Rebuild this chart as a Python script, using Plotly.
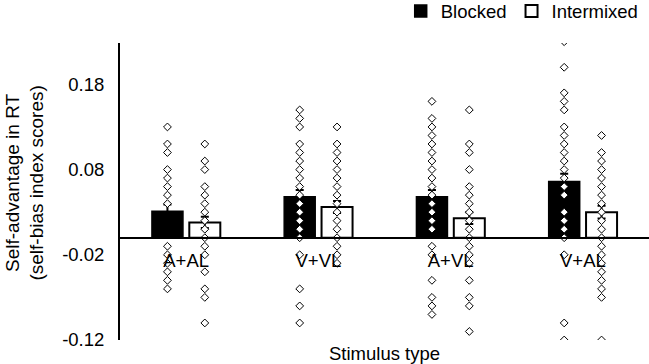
import plotly.graph_objects as go

categories = ["A+AL", "V+VL", "A+VL", "V+AL"]

blocked_means = [0.031, 0.048, 0.048, 0.066]
blocked_err = [0.008, 0.008, 0.008, 0.009]
intermixed_means = [0.018, 0.036, 0.023, 0.030]
intermixed_err = [0.0065, 0.007, 0.007, 0.0074]

blocked_AAL = [0.13, 0.11, 0.10, 0.08, 0.07, 0.06, 0.05, 0.04, -0.01, -0.02, -0.03, -0.04, -0.05, -0.06]
blocked_VVL = [0.15, 0.14, 0.13, 0.11, 0.10, 0.09, 0.08, 0.07, 0.06, 0.05, 0.04, 0.03, 0.02, 0.01, 0.00,
               -0.02, -0.06, -0.08, -0.10]
blocked_AVL = [0.16, 0.14, 0.13, 0.12, 0.11, 0.10, 0.09, 0.08, 0.07, 0.06, 0.05, 0.04, 0.03, 0.02, 0.01,
               -0.01, -0.02, -0.05, -0.07, -0.08, -0.09]
blocked_VAL = [0.23, 0.20, 0.17, 0.16, 0.15, 0.13, 0.12, 0.11, 0.10, 0.09, 0.08, 0.07, 0.06, 0.05, 0.03,
               0.02, 0.01, 0.00, -0.02, -0.10, -0.12]

intermixed_AAL = [0.11, 0.09, 0.08, 0.06, 0.05, 0.04, 0.03, 0.02, 0.01, 0.00, -0.01, -0.02, -0.04, -0.06,
                  -0.07, -0.10]
intermixed_VVL = [0.13, 0.11, 0.10, 0.09, 0.08, 0.07, 0.06, 0.05, 0.04, 0.03, 0.02, 0.01, 0.00, -0.01,
                  -0.02, -0.03]
intermixed_AVL = [0.15, 0.11, 0.10, 0.08, 0.06, 0.05, 0.04, 0.03, 0.02, 0.01, 0.00, -0.01, -0.02, -0.03,
                  -0.05, -0.07, -0.08, -0.11]
intermixed_VAL = [0.12, 0.10, 0.09, 0.08, 0.07, 0.06, 0.05, 0.04, 0.03, 0.02, 0.01, 0.00, -0.01, -0.02,
                  -0.03, -0.04, -0.05, -0.06, -0.07, -0.12]

y_tick_vals = [-0.12, -0.02, 0.08, 0.18]
y_tick_text = ["-0.12", "-0.02", "0.08", "0.18"]

FONT = "Arial, Liberation Sans, sans-serif"
FS = 18.5

blocked_pts = [blocked_AAL, blocked_VVL, blocked_AVL, blocked_VAL]
intermixed_pts = [intermixed_AAL, intermixed_VVL, intermixed_AVL, intermixed_VAL]


def flatten(groups):
    xs, ys = [], []
    for cat, vals in zip(categories, groups):
        xs += [cat] * len(vals)
        ys += vals
    return xs, ys


fig = go.Figure()
fig.add_trace(go.Bar(
    x=categories, y=blocked_means, name="Blocked", offsetgroup="b",
    marker=dict(color="black", line=dict(color="black", width=1.5)),
    error_y=dict(type="data", array=blocked_err, color="black", thickness=2, width=4),
))
fig.add_trace(go.Bar(
    x=categories, y=intermixed_means, name="Intermixed", offsetgroup="i",
    marker=dict(color="white", line=dict(color="black", width=2)),
    error_y=dict(type="data", array=intermixed_err, color="black", thickness=2, width=4),
))

bx, by = flatten(blocked_pts)
ix, iy = flatten(intermixed_pts)
for xs, ys, grp in [(bx, by, "b"), (ix, iy, "i")]:
    fig.add_trace(go.Scatter(
        x=xs, y=ys, mode="markers", offsetgroup=grp, showlegend=False, hoverinfo="skip",
        marker=dict(symbol="diamond", size=6, color="white", line=dict(color="black", width=1)),
    ))

fig.update_layout(
    width=649, height=364,
    margin=dict(l=120, r=0, t=43, b=24, autoexpand=False),
    paper_bgcolor="white", plot_bgcolor="white",
    font=dict(family=FONT, size=FS, color="black"),
    barmode="group", bargap=0.435, bargroupgap=0.17,
    scattermode="group", scattergap=0.435,
    showlegend=True,
    legend=dict(orientation="h", x=0.99, xanchor="right", y=1.17, yanchor="top",
                font=dict(size=FS, family=FONT), bgcolor="rgba(0,0,0,0)",
                itemwidth=30, tracegroupgap=0),
    xaxis=dict(type="category", anchor="free", position=0.3444, showline=True, linecolor="black",
               linewidth=2, ticks="", showgrid=False, zeroline=False, ticklabelstandoff=6,
               tickfont=dict(size=FS, family=FONT)),
    yaxis=dict(range=[-0.12, 0.2285], tickvals=y_tick_vals, ticktext=y_tick_text, showgrid=False,
               zeroline=False, showline=True, linecolor="black", linewidth=2, ticks="",
               ticklabelstandoff=10, tickfont=dict(size=FS, family=FONT)),
    annotations=[
        dict(text="Self-advantage in RT<br>(self-bias index scores)", textangle=-90,
             xref="paper", yref="paper", x=-0.1804, y=0.5286, xanchor="center", yanchor="middle",
             showarrow=False, font=dict(size=19, family=FONT)),
        dict(text="Stimulus type", xref="paper", yref="paper", x=0.5, y=-0.045,
             xanchor="center", yanchor="middle", showarrow=False, font=dict(size=FS, family=FONT)),
    ],
)

fig.write_html("out.html", config={"displayModeBar": False},
               post_script="document.body.style.margin='0';document.body.style.padding='0';")
